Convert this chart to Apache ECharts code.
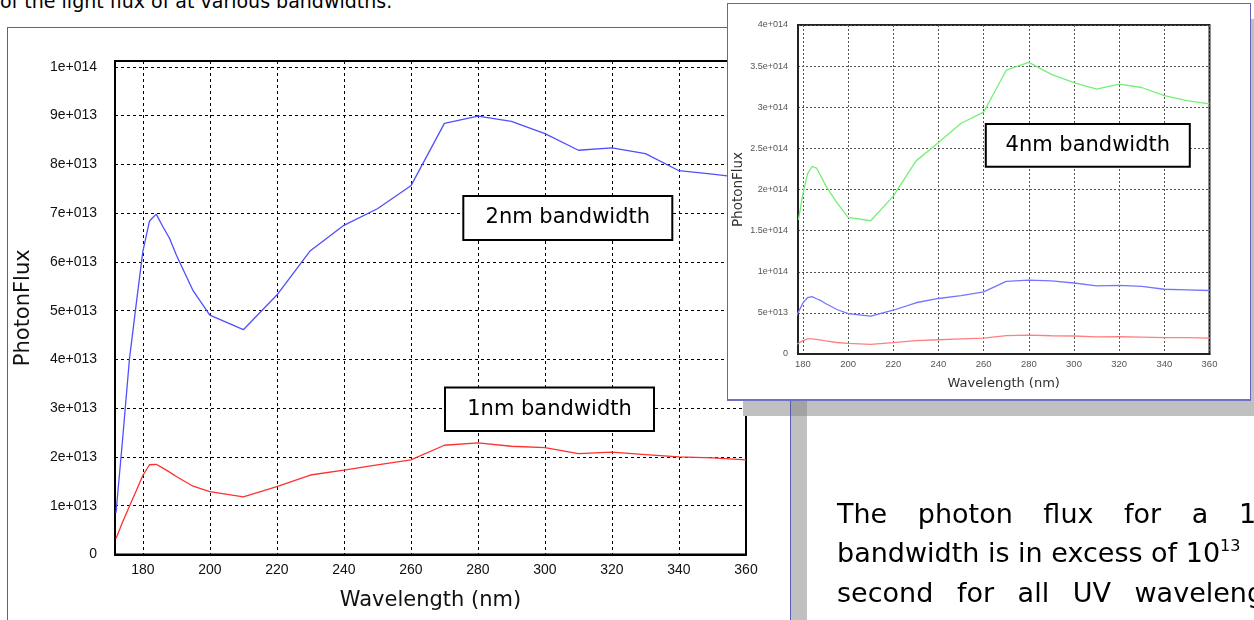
<!DOCTYPE html>
<html>
<head>
<meta charset="utf-8">
<script src="https://cdn.jsdelivr.net/npm/echarts@6.0.0/dist/echarts.min.js"></script>
<style>
html,body{margin:0;padding:0;width:1254px;height:620px;overflow:hidden;background:#fff;}
.abs{position:absolute;}
.txt{position:absolute;font-family:"DejaVu Sans",Verdana,sans-serif;font-size:27px;line-height:38px;white-space:nowrap;color:#000;}
.txt sup{font-size:16px;line-height:0;vertical-align:11px;}
</style>
</head>
<body>
<div class="txt" id="topText" style="left:0;top:-18px;font-size:19px;">of the light flux of at various bandwidths.</div>

<!-- main document frame -->
<div class="abs" style="left:7px;top:27px;width:782px;height:640px;border:1px solid #5a5ab8;border-bottom:none;z-index:1;"></div>
<div class="abs" style="left:791px;top:44px;width:16px;height:600px;background:#c0c0c0;z-index:1;"></div>

<div class="abs" id="mainChart" style="left:0;top:0;width:1254px;height:620px;z-index:2;"></div>

<!-- inset frame + shadow -->
<div class="abs" style="left:743px;top:19px;width:524px;height:397px;background:#c0c0c0;z-index:3;"></div>
<div class="abs" style="left:791px;top:401px;width:16px;height:15px;background:#a2a2a2;z-index:3;"></div>
<div class="abs" style="left:790px;top:400px;width:1px;height:230px;background:#5a5ab8;z-index:3;"></div>
<div class="abs" style="left:727px;top:3px;width:522px;height:395px;border:1px solid #6464c0;border-bottom:2px solid #7070c4;background:#fff;z-index:4;"></div>

<div class="abs" id="insetChart" style="left:0;top:0;width:1254px;height:620px;z-index:5;"></div>

<div class="txt" style="left:837px;top:495px;word-spacing:22px;z-index:6;">The photon flux for a 1nm</div>
<div class="txt" style="left:837px;top:534px;z-index:6;">bandwidth is in excess of 10<sup>13</sup></div>
<div class="txt" style="left:837px;top:574px;word-spacing:15px;z-index:6;">second for all UV wavelengths</div>

<script>
// ---------------- data ----------------
const wavelengths = [172,174,176,178,180,182,184,186,188,190,195,200,210,220,230,240,250,260,270,280,290,300,310,320,330,340,350,360];
// photon flux in units of 1e13
const flux1nm = [0.33,0.67,0.99,1.30,1.62,1.84,1.85,1.77,1.69,1.60,1.40,1.29,1.18,1.39,1.63,1.73,1.84,1.94,2.24,2.29,2.22,2.19,2.07,2.10,2.05,2.00,1.98,1.94];
const flux2nm = [0.85,2.39,4.00,5.12,6.21,6.84,6.98,6.72,6.48,6.14,5.41,4.91,4.61,5.32,6.23,6.75,7.09,7.56,8.84,8.99,8.88,8.63,8.29,8.34,8.22,7.87,7.80,7.72];
const wavelengths4nm = [178,180,182,184,186,188,190,195,200,210,220,230,240,250,260,270,280,290,300,310,320,330,340,350,360];
const flux4nm = [16.3,19.5,21.9,22.8,22.6,21.6,20.5,18.4,16.6,16.2,19.2,23.45,25.7,28.05,29.4,34.5,35.45,34.0,33.0,32.2,32.8,32.4,31.4,30.8,30.4];
const fluxUnit = 1e13;

const xTickLabels = ['180','200','220','240','260','280','300','320','340','360'];
const mainYTickLabels = ['0','1e+013','2e+013','3e+013','4e+013','5e+013','6e+013','7e+013','8e+013','9e+013','1e+014'];
const insetYTickLabels = ['0','5e+013','1e+014','1.5e+014','2e+014','2.5e+014','3e+014','3.5e+014','4e+014'];

const annotations = { main2: '2nm bandwidth', main1: '1nm bandwidth', inset4: '4nm bandwidth' };
const axisTitles = { x: 'Wavelength (nm)', y: 'PhotonFlux' };

// ---------------- helpers ----------------
function pairs(xs, ys){ return xs.map((x,i)=>[x, ys[i]*fluxUnit]); }
function labeler(labels, start, step){
  return function(v){
    const i = Math.round((v-start)/step);
    if (Math.abs(v-(start+i*step)) > step*1e-6) return '';
    return labels[i] !== undefined ? labels[i] : '';
  };
}
function box(cx, cy, w, h, text, fs){
  return [
    {type:'rect', z:100, shape:{x:cx-w/2, y:cy-h/2, width:w, height:h}, style:{fill:'#fff', stroke:'#000', lineWidth:2}},
    {type:'text', z:101, x:cx, y:cy, style:{text:text, fontFamily:'DejaVu Sans', fontSize:fs, fill:'#000', align:'center', verticalAlign:'middle'}}
  ];
}

// ---------------- main chart ----------------
const mainChart = echarts.init(document.getElementById('mainChart'), null, {renderer:'canvas'});
mainChart.setOption({
  animation:false,
  backgroundColor:'transparent',
  grid:{left:115, top:61, width:631, height:493.5, show:true, borderColor:'#000', borderWidth:2, backgroundColor:'transparent', containLabel:false, outerBoundsMode:'none'},
  xAxis:{
    type:'value', min:171.7, max:360, splitNumber:10,
    axisLine:{show:true, lineStyle:{color:'#000', width:2}},
    axisTick:{show:false},
    axisLabel:{margin:9, fontFamily:'Liberation Sans', fontSize:14, color:'#111', formatter:labeler(xTickLabels,180,20), hideOverlap:false},
    splitLine:{show:true, lineStyle:{color:'#000', width:1, type:[3,3]}},
    name:axisTitles.x, nameLocation:'middle', nameGap:36,
    nameTextStyle:{fontFamily:'DejaVu Sans', fontSize:21, color:'#111'}
  },
  yAxis:{
    type:'value', min:0, max:1.012e14, interval:1e13,
    axisLine:{show:true, lineStyle:{color:'#000', width:2}},
    axisTick:{show:false},
    axisLabel:{margin:18, fontFamily:'Liberation Sans', fontSize:14, color:'#111', formatter:labeler(mainYTickLabels,0,1e13), hideOverlap:false},
    splitLine:{show:true, lineStyle:{color:'#000', width:1, type:[3,3]}},
    name:axisTitles.y, nameLocation:'middle', nameGap:81,
    nameTextStyle:{fontFamily:'DejaVu Sans', fontSize:21, color:'#111'}
  },
  series:[
    {name:'2nm', type:'line', data:pairs(wavelengths, flux2nm), showSymbol:false, symbol:'none', clip:true, lineStyle:{color:'#4f4fff', width:1.3}, z:3},
    {name:'1nm', type:'line', data:pairs(wavelengths, flux1nm), showSymbol:false, symbol:'none', clip:true, lineStyle:{color:'#ff3030', width:1.3}, z:3}
  ],
  graphic:[].concat(
    box(567.8, 218, 209, 44, annotations.main2, 21),
    box(549.5, 409.2, 209, 43.5, annotations.main1, 21)
  )
});

// ---------------- inset chart ----------------
const insetChart = echarts.init(document.getElementById('insetChart'), null, {renderer:'canvas'});
insetChart.setOption({
  animation:false,
  backgroundColor:'transparent',
  grid:{left:798, top:25, width:411.5, height:329, show:true, borderColor:'#222', borderWidth:2, backgroundColor:'transparent', containLabel:false, outerBoundsMode:'none'},
  xAxis:{
    type:'value', min:177.8, max:360, splitNumber:10,
    axisLine:{show:true, lineStyle:{color:'#222', width:2}},
    axisTick:{show:false},
    axisLabel:{margin:5, fontFamily:'Liberation Sans', fontSize:9.5, color:'#555', formatter:labeler(xTickLabels,180,20), hideOverlap:false},
    splitLine:{show:true, lineStyle:{color:'#555', width:1, type:[2,2]}},
    name:axisTitles.x, nameLocation:'middle', nameGap:23,
    nameTextStyle:{fontFamily:'DejaVu Sans', fontSize:13, color:'#333'}
  },
  yAxis:{
    type:'value', min:0, max:4e14, interval:5e13,
    axisLine:{show:true, lineStyle:{color:'#222', width:2}},
    axisTick:{show:false},
    axisLabel:{margin:10, fontFamily:'Liberation Sans', fontSize:9, color:'#555', formatter:labeler(insetYTickLabels,0,5e13), hideOverlap:false},
    splitLine:{show:true, lineStyle:{color:'#555', width:1, type:[2,2]}},
    name:axisTitles.y, nameLocation:'middle', nameGap:53,
    nameTextStyle:{fontFamily:'DejaVu Sans', fontSize:13.5, color:'#333'}
  },
  series:[
    {name:'4nm', type:'line', data:pairs(wavelengths4nm, flux4nm), showSymbol:false, symbol:'none', clip:true, lineStyle:{color:'#74f074', width:1.3}, z:3},
    {name:'2nm', type:'line', data:pairs(wavelengths, flux2nm), showSymbol:false, symbol:'none', clip:true, lineStyle:{color:'#7575ff', width:1.3}, z:3},
    {name:'1nm', type:'line', data:pairs(wavelengths, flux1nm), showSymbol:false, symbol:'none', clip:true, lineStyle:{color:'#ff8080', width:1.3}, z:3}
  ],
  graphic:box(1087.8, 145.3, 204, 42.7, annotations.inset4, 21)
});
</script>
</body>
</html>
